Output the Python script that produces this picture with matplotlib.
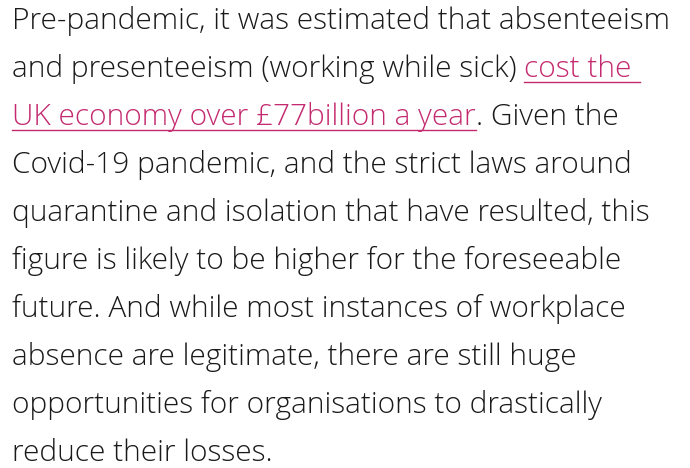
import matplotlib
matplotlib.use("Agg")
import matplotlib.pyplot as plt
from matplotlib.lines import Line2D

# paragraph text, one entry per line; each line is a list of (text, is_link)
lines = [
    [("Pre-pandemic, it was estimated that absenteeism", False)],
    [("and presenteeism (working while sick) ", False), ("cost the ", True)],
    [("UK economy over £77billion a year", True), (". Given the", False)],
    [("Covid-19 pandemic, and the strict laws around", False)],
    [("quarantine and isolation that have resulted, this", False)],
    [("figure is likely to be higher for the foreseeable", False)],
    [("future. And while most instances of workplace", False)],
    [("absence are legitimate, there are still huge", False)],
    [("opportunities for organisations to drastically", False)],
    [("reduce their losses.", False)],
]

text_color = "#1a1a1a"
link_color = "#c42a6f"
font = dict(family="Open Sans", weight="light")

W, H = 690, 468
fig = plt.figure(figsize=(W / 100, H / 100), dpi=100)
fig.patch.set_facecolor("white")
fig.canvas.draw()
renderer = fig.canvas.get_renderer()

x0 = 12
first_baseline = 29
line_gap = 48

# size the font so the first line spans the same width as the original
probe = fig.text(0, 0, lines[0][0][0], fontsize=20, **font)
w20 = probe.get_window_extent(renderer).width
probe.remove()
fsize = 20 * 660 / w20

for i, segs in enumerate(lines):
    y = H - (first_baseline + i * line_gap)
    x = x0
    for txt, link in segs:
        t = fig.text(x / W, y / H, txt, fontsize=fsize, **font,
                     color=link_color if link else text_color,
                     ha="left", va="baseline")
        bb = t.get_window_extent(renderer)
        if link:
            fig.add_artist(Line2D([x / W, (x + bb.width) / W],
                                  [(y - 5) / H, (y - 5) / H],
                                  color=link_color, lw=1.0))
        x += bb.width

fig.savefig("out.png", dpi=100, facecolor="white")
